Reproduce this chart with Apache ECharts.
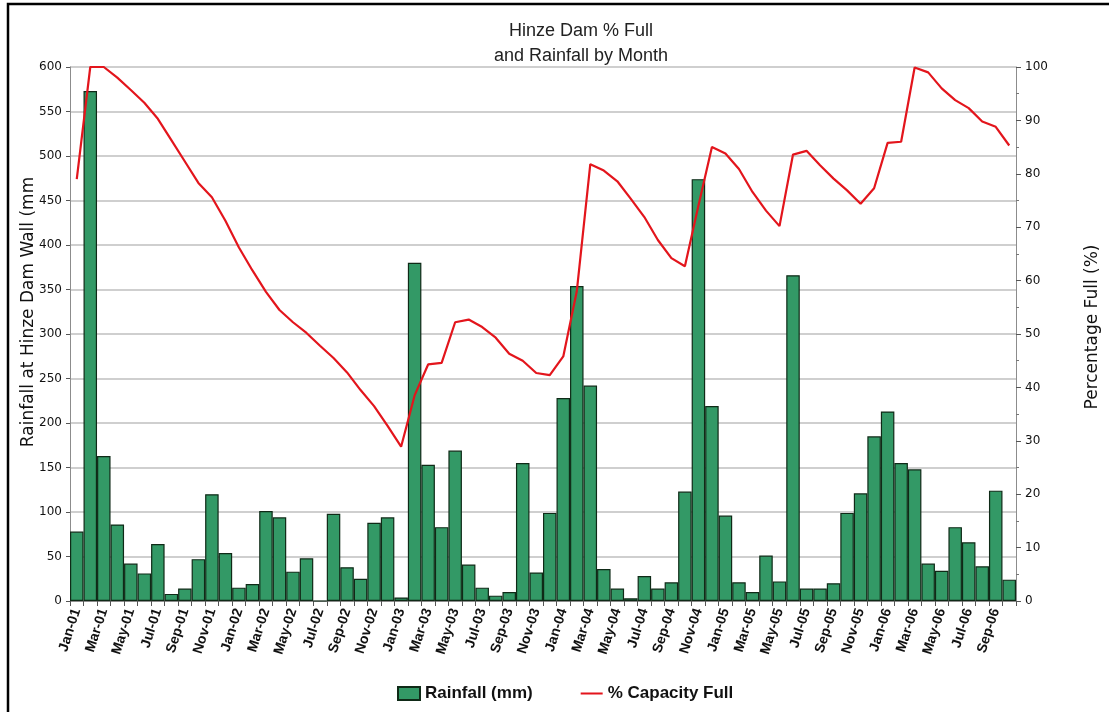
<!DOCTYPE html>
<html>
<head>
<meta charset="utf-8">
<title>Hinze Dam % Full and Rainfall by Month</title>
<script src="https://cdn.jsdelivr.net/npm/echarts@6/dist/echarts.min.js"></script>
<style>
  html, body { margin: 0; padding: 0; background: #ffffff; }
  #chart { width: 1109px; height: 712px; }
</style>
</head>
<body>
<div id="chart"></div>
<script>
// Month categories, Jan 2001 – Oct 2006
const months = [
  'Jan-01','Feb-01','Mar-01','Apr-01','May-01','Jun-01','Jul-01','Aug-01','Sep-01','Oct-01','Nov-01','Dec-01',
  'Jan-02','Feb-02','Mar-02','Apr-02','May-02','Jun-02','Jul-02','Aug-02','Sep-02','Oct-02','Nov-02','Dec-02',
  'Jan-03','Feb-03','Mar-03','Apr-03','May-03','Jun-03','Jul-03','Aug-03','Sep-03','Oct-03','Nov-03','Dec-03',
  'Jan-04','Feb-04','Mar-04','Apr-04','May-04','Jun-04','Jul-04','Aug-04','Sep-04','Oct-04','Nov-04','Dec-04',
  'Jan-05','Feb-05','Mar-05','Apr-05','May-05','Jun-05','Jul-05','Aug-05','Sep-05','Oct-05','Nov-05','Dec-05',
  'Jan-06','Feb-06','Mar-06','Apr-06','May-06','Jun-06','Jul-06','Aug-06','Sep-06','Oct-06'
];

// Monthly rainfall at the dam wall (mm)
const rainfall = [
  78, 573, 163, 86, 42, 31, 64, 8, 14, 47, 120, 54,
  15, 19, 101, 94, 33, 48, 0, 98, 38, 25, 88, 94,
  4, 380, 153, 83, 169, 41, 15, 6, 10, 155, 32, 99,
  228, 354, 242, 36, 14, 3, 28, 14, 21, 123, 474, 219,
  96, 21, 10, 51, 22, 366, 14, 14, 20, 99, 121, 185,
  213, 155, 148, 42, 34, 83, 66, 39, 124, 24
];

// Storage level, % of capacity
const capacity = [
  79, 100, 100, 98, 95.7, 93.3, 90.3, 86.3, 82.3, 78.3, 75.6, 71.2,
  66.2, 61.9, 57.9, 54.5, 52.2, 50.2, 47.8, 45.5, 42.8, 39.5, 36.5, 32.8,
  28.9, 38.5, 44.3, 44.6, 52.2, 52.7, 51.3, 49.3, 46.3, 45, 42.7, 42.3,
  45.8, 58, 81.8, 80.6, 78.6, 75.3, 71.9, 67.6, 64.2, 62.7, 74, 85,
  83.8, 80.9, 76.6, 73.1, 70.2, 83.6, 84.3, 81.6, 79.1, 76.9, 74.4, 77.3,
  85.8, 86, 99.9, 99, 96, 93.8, 92.3, 89.8, 88.8, 85.3
];

const chart = echarts.init(document.getElementById('chart'), null, { renderer: 'canvas' });

const axisGrey = '#8c8c8c';
const gridGrey = '#bfbfbf';
const barGreen = '#339966';
const lineRed = '#e3151c';

chart.setOption({
  backgroundColor: '#ffffff',
  animation: false,
  title: {
    text: 'Hinze Dam % Full\nand Rainfall by Month',
    left: 576,
    textAlign: 'center',
    top: 14,
    textStyle: {
      fontFamily: 'Liberation Sans',
      fontSize: 18,
      fontWeight: 'normal',
      lineHeight: 25,
      color: '#222'
    }
  },
  graphic: [{
    type: 'rect',
    silent: true,
    shape: { x: 8, y: 4, width: 1200, height: 800 },
    style: { fill: 'none', stroke: '#000', lineWidth: 2.5 }
  }],
  legend: {
    left: 392,
    top: 680,
    itemWidth: 22,
    itemHeight: 13,
    itemGap: 48,
    textStyle: {
      fontFamily: 'Liberation Sans',
      fontSize: 17,
      fontWeight: 'bold',
      color: '#111'
    },
    data: [
      { name: 'Rainfall (mm)', icon: 'rect' },
      { name: '% Capacity Full', icon: 'path://M0,0 H24 V2.2 H0 Z' }
    ]
  },
  grid: { left: 70, right: 92, top: 67, bottom: 111 },
  xAxis: {
    type: 'category',
    data: months,
    boundaryGap: true,
    axisLine: { show: true, lineStyle: { color: axisGrey, width: 1 } },
    axisTick: { show: true, interval: 0, length: 5, lineStyle: { color: '#555' } },
    axisLabel: {
      interval: 1,
      rotate: 72,
      margin: 8,
      fontFamily: 'Liberation Sans',
      fontSize: 14,
      fontWeight: 'bold',
      color: '#111'
    },
    splitLine: { show: false }
  },
  yAxis: [{
    type: 'value',
    min: 0,
    max: 600,
    interval: 50,
    name: 'Rainfall at Hinze Dam Wall (mm',
    nameLocation: 'middle',
    nameGap: 33,
    nameRotate: 90,
    nameMoveOverlap: false,
    nameTextStyle: {
      fontFamily: 'DejaVu Sans',
      fontSize: 17,
      color: '#111',
      padding: [0, 0, 0, 44]
    },
    axisLine: { show: true, lineStyle: { color: axisGrey, width: 1 } },
    axisTick: { show: true, length: 4, lineStyle: { color: '#555' } },
    axisLabel: {
      margin: 8,
      fontFamily: 'DejaVu Sans',
      fontSize: 12,
      color: '#111'
    },
    splitLine: { show: true, lineStyle: { color: gridGrey, width: 1.5 } }
  }, {
    type: 'value',
    min: 0,
    max: 100,
    interval: 10,
    position: 'right',
    name: 'Percentage Full (%)',
    nameLocation: 'middle',
    nameGap: 68,
    nameRotate: 90,
    nameMoveOverlap: false,
    nameTextStyle: {
      fontFamily: 'DejaVu Sans',
      fontSize: 17,
      color: '#111',
      padding: [0, 0, 0, 14]
    },
    axisLine: { show: true, lineStyle: { color: axisGrey, width: 1 } },
    axisTick: { show: true, length: 5, lineStyle: { color: '#555' } },
    minorTick: { show: true, splitNumber: 2, length: 3, lineStyle: { color: '#777' } },
    axisLabel: {
      margin: 9,
      fontFamily: 'DejaVu Sans',
      fontSize: 12,
      color: '#111'
    },
    splitLine: { show: false }
  }],
  series: [{
    name: 'Rainfall (mm)',
    type: 'bar',
    yAxisIndex: 0,
    data: rainfall,
    barCategoryGap: '0%',
    itemStyle: {
      color: barGreen,
      borderColor: '#0f2a17',
      borderWidth: 1.2
    },
    z: 2
  }, {
    name: '% Capacity Full',
    type: 'line',
    yAxisIndex: 1,
    data: capacity,
    symbol: 'none',
    smooth: false,
    lineStyle: { color: lineRed, width: 2.2 },
    itemStyle: { color: lineRed },
    z: 3
  }]
});
</script>
</body>
</html>
